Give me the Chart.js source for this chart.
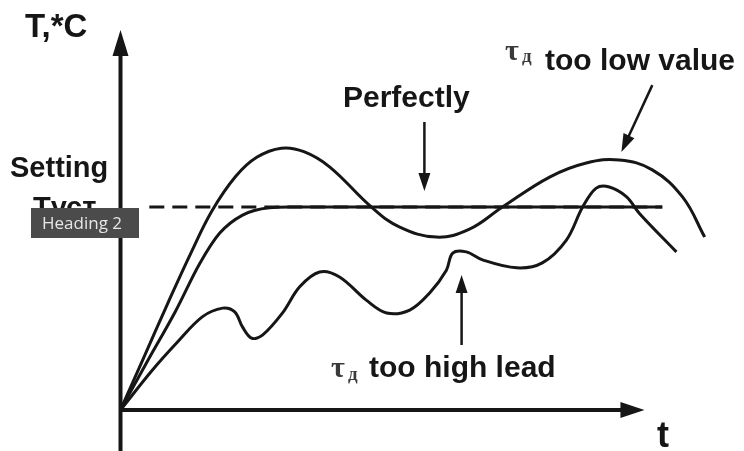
<!DOCTYPE html>
<html>
<head>
<meta charset="utf-8">
<script src="https://cdn.jsdelivr.net/npm/chart.js@4"></script>
<style>
  body { margin: 0; background: #fff; }
  #wrap { width: 744px; height: 451px; }
</style>
</head>
<body>
<div id="wrap"><canvas id="chart"></canvas></div>
<script>
// time (t) and temperature (T), arbitrary units
const setpoint = 53.4
const setpointSpan = [5.5, 103.4]

const tooLowT = [0, 4.5, 9.0, 13.5, 17.5, 22.0, 26.0, 30.7, 35.0, 39.9, 47.9, 53.2, 60.3, 66.5, 72.9, 81.9, 88.9, 95.2, 101.5, 107.3, 111.5]
const tooLowY = [0, 14.0, 28.0, 41.5, 52.5, 61.5, 66.5, 68.9, 68.0, 64.0, 53.4, 48.2, 45.5, 47.5, 53.4, 61.3, 65.0, 65.8, 63.2, 56.0, 45.5]

const perfectT = [0, 5.0, 10.5, 15.1, 18.9, 23.3, 28.4, 32.3, 103.4]
const perfectY = [0, 12.5, 26.0, 38.5, 46.5, 51.3, 53.2, 53.4, 53.4]

const tooHighT = [0, 6.1, 10.7, 15.6, 19.5, 21.8, 23.3, 25.0, 27.1, 30.9, 34.2, 38.0, 41.8, 46.9, 50.8, 55.2, 59.0, 62.2, 63.4, 66.0, 69.1, 75.6, 80.5, 85.1, 88.2, 90.8, 93.3, 96.6, 99.0, 106.1]
const tooHighY = [0, 10.5, 17.6, 24.5, 26.8, 25.8, 21.8, 18.9, 19.7, 25.5, 32.4, 36.3, 35.0, 28.9, 25.5, 26.3, 30.8, 36.8, 41.3, 41.6, 39.5, 37.4, 38.7, 44.7, 53.4, 58.4, 58.7, 56.1, 51.8, 41.6]

// pointer arrows: [fromT, fromY, toT, toY]
const pointers = [
  [58.0, 75.8, 58.0, 57.6],
  [101.5, 85.5, 95.6, 67.9],
  [65.1, 17.1, 65.1, 35.5]
]

const ink = '#161616'
const toPts = (xs, ys) => xs.map((x, i) => ({ x: x, y: ys[i] }))

function arrowHead(ctx, x1, y1, x2, y2, len, half) {
  const a = Math.atan2(y2 - y1, x2 - x1)
  ctx.beginPath()
  ctx.moveTo(x2, y2)
  ctx.lineTo(x2 - len * Math.cos(a) + half * Math.sin(a), y2 - len * Math.sin(a) - half * Math.cos(a))
  ctx.lineTo(x2 - len * Math.cos(a) - half * Math.sin(a), y2 - len * Math.sin(a) + half * Math.cos(a))
  ctx.closePath()
  ctx.fill()
}

const decor = {
  id: 'decor',
  afterDatasetsDraw(chart) {
    const ctx = chart.ctx
    const xs = chart.scales.x, ys = chart.scales.y
    const ox = xs.getPixelForValue(0), oy = ys.getPixelForValue(0)
    ctx.save()
    ctx.strokeStyle = ink
    ctx.fillStyle = ink
    ctx.lineCap = 'butt'

    // axes
    ctx.lineWidth = 4
    ctx.beginPath()
    ctx.moveTo(ox, chart.height)
    ctx.lineTo(ox, ys.getPixelForValue(100) + 20)
    ctx.moveTo(ox - 2, oy)
    ctx.lineTo(xs.getPixelForValue(100) - 18, oy)
    ctx.stroke()
    arrowHead(ctx, ox, oy, ox, ys.getPixelForValue(100), 26, 8)
    arrowHead(ctx, ox, oy, xs.getPixelForValue(100), oy, 24, 8)

    // pointer arrows
    ctx.lineWidth = 2.5
    pointers.forEach(p => {
      const x1 = xs.getPixelForValue(p[0]), y1 = ys.getPixelForValue(p[1])
      const x2 = xs.getPixelForValue(p[2]), y2 = ys.getPixelForValue(p[3])
      const a = Math.atan2(y2 - y1, x2 - x1)
      ctx.beginPath()
      ctx.moveTo(x1, y1)
      ctx.lineTo(x2 - 14 * Math.cos(a), y2 - 14 * Math.sin(a))
      ctx.stroke()
      arrowHead(ctx, x1, y1, x2, y2, 18, 6)
    })

    // labels
    ctx.textBaseline = 'alphabetic'
    ctx.textAlign = 'left'
    ctx.font = 'bold 33px "Liberation Sans", Arial, sans-serif'
    ctx.fillText('T,*C', 25, 37)
    ctx.font = 'bold 29px "Liberation Sans", Arial, sans-serif'
    ctx.fillText('Setting', 10, 177)
    ctx.fillText('Tуст', 33, 217)
    ctx.font = 'bold 30px "Liberation Sans", Arial, sans-serif'
    ctx.fillText('Perfectly', 343, 107)
    ctx.fillText('too low value', 545, 70)
    ctx.fillText('too high lead', 369, 377)
    ctx.font = 'bold 36px "Liberation Sans", Arial, sans-serif'
    ctx.fillText('t', 657, 447)

    ctx.fillStyle = '#3a3a3a'
    ctx.font = 'bold 30px "Liberation Serif", serif'
    ctx.fillText('τ', 505, 60)
    ctx.fillText('τ', 331, 377)
    ctx.font = 'bold 19px "Liberation Serif", serif'
    ctx.fillText('д', 522, 62)
    ctx.fillText('д', 348, 380)

    // overlay tag
    ctx.fillStyle = '#4b4b4b'
    ctx.fillRect(31, 208, 108, 30)
    ctx.fillStyle = '#e6e6e6'
    ctx.font = '17px "Open Sans", "Liberation Sans", sans-serif'
    ctx.fillText('Heading 2', 42, 229)
    ctx.restore()
  }
}

const line = {
  borderColor: ink,
  borderWidth: 3,
  pointRadius: 0,
  fill: false,
  tension: 0.4
}

new Chart(document.getElementById('chart'), {
  type: 'line',
  data: {
    datasets: [
      Object.assign({}, line, { data: toPts(setpointSpan, [setpoint, setpoint]), borderDash: [15, 8], tension: 0 }),
      Object.assign({}, line, { data: toPts(perfectT, perfectY), cubicInterpolationMode: 'monotone' }),
      Object.assign({}, line, { data: toPts(tooLowT, tooLowY) }),
      Object.assign({}, line, { data: toPts(tooHighT, tooHighY), tension: 0.35 })
    ]
  },
  options: {
    responsive: true,
    maintainAspectRatio: false,
    animation: false,
    layout: { padding: 0 },
    plugins: { legend: { display: false }, tooltip: { enabled: false } },
    scales: {
      x: { type: 'linear', min: -23, max: 119, display: false },
      y: { min: -10.8, max: 107.9, display: false }
    }
  },
  plugins: [decor]
})
</script>
</body>
</html>
